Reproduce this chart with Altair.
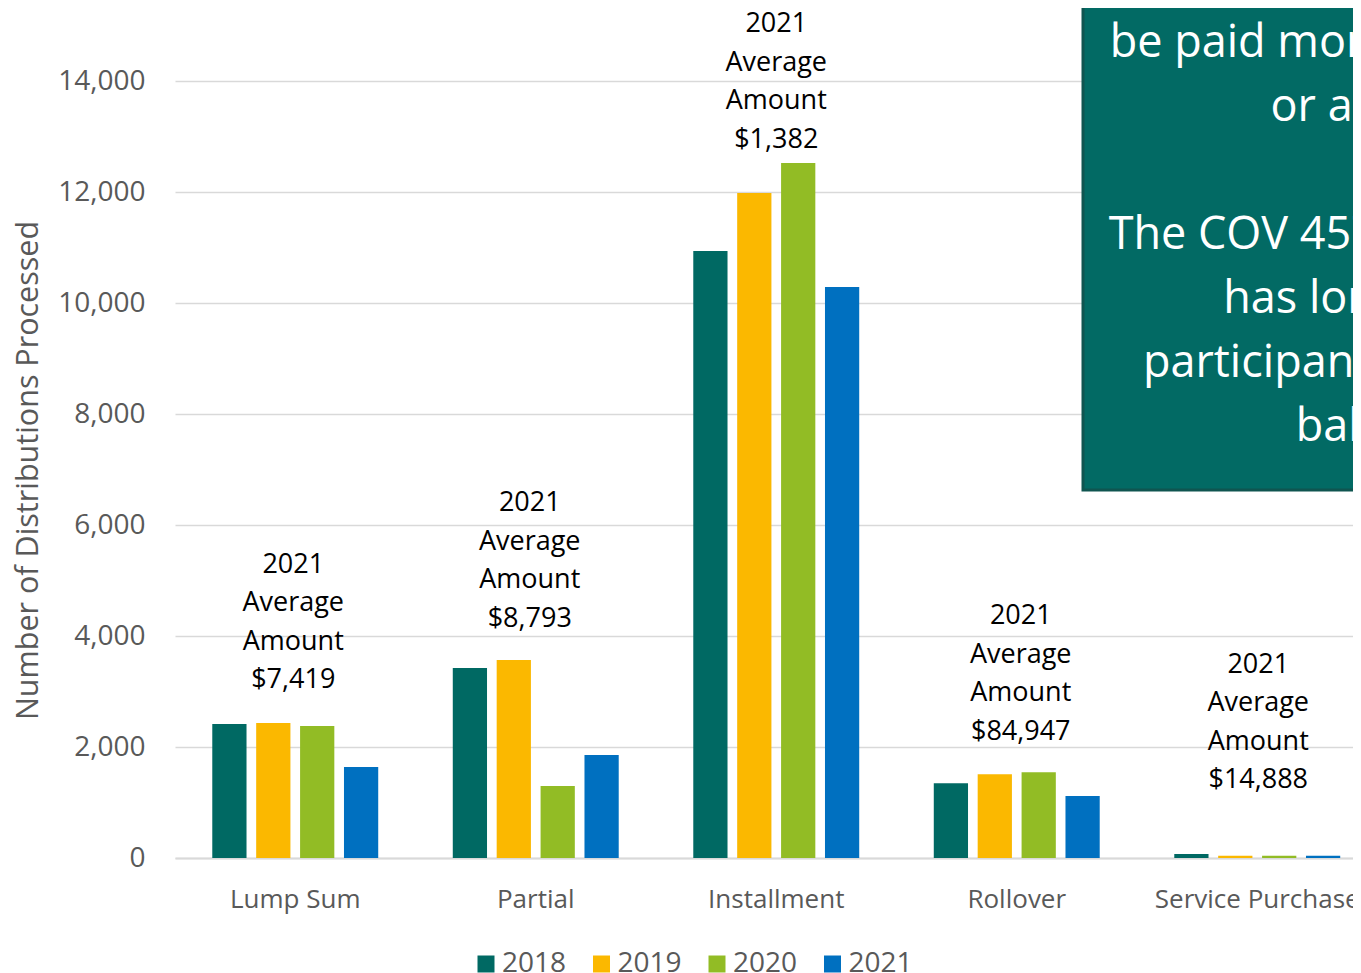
import altair as alt
import pandas as pd

categories = ["Lump Sum", "Partial", "Installment", "Rollover", "Service Purchase"]
years = ["2018", "2019", "2020", "2021"]
v2018 = [2414, 3423, 10937, 1346, 72]
v2019 = [2432, 3568, 11982, 1508, 41]
v2020 = [2378, 1297, 12523, 1544, 41]
v2021 = [1640, 1856, 10288, 1117, 41]
avg_amounts = ["$7,419", "$8,793", "$1,382", "$84,947", "$14,888"]
label_y = [5280, 6396, 15027, 4360, 3478]
label_dx = [-2, -6, 0, 4, 1]
box_lines_top = ["be paid monthly, quarterly,", "or annually."]
box_lines_bottom = ["The COV 457 Deferred Plan", "has long offered",
                    "participants flexibility to", "balances."]
colors = ["#006963", "#FBB800", "#92BC25", "#0070C0"]
y_ticks = [0, 2000, 4000, 6000, 8000, 10000, 12000, 14000]

rows = []
for yr, vals in zip(years, [v2018, v2019, v2020, v2021]):
    for c, v in zip(categories, vals):
        rows.append({"category": c, "year": yr, "value": v})
df = pd.DataFrame(rows)

FONT = "Open Sans"
GRAY = "#595959"

x_enc = alt.X(
    "category:N", sort=categories,
    scale=alt.Scale(domain=categories, range=[0, 1202.5], paddingInner=0.31, paddingOuter=0.155),
    axis=alt.Axis(title=None, labelAngle=0, labelFont=FONT, labelFontSize=26, labelColor=GRAY,
                  labelPadding=28, labelLimit=1000, ticks=False, domain=True,
                  domainColor="#d9d9d9", domainWidth=2, grid=False),
)


def y_enc(field):
    return alt.Y(
        field, type="quantitative",
        scale=alt.Scale(domain=[0, 14000], nice=False, zero=True),
        axis=alt.Axis(values=y_ticks, format=",d", title="Number of Distributions Processed",
                      labelFont=FONT, labelFontSize=28, labelColor=GRAY, labelPadding=30,
                      ticks=False, domain=False, grid=True, gridColor="#d9d9d9", gridWidth=1.5,
                      titleFont=FONT, titleFontSize=30.5, titleColor=GRAY,
                      titleFontWeight="normal", titleX=-147, titleY=389, titleAlign="center",
                      titleBaseline="middle", titleAngle=270),
    )


bars = alt.Chart(df).mark_bar().encode(
    x=x_enc,
    xOffset=alt.XOffset("year:N", sort=years,
                        scale=alt.Scale(paddingInner=0.22, paddingOuter=0)),
    y=y_enc("value"),
    color=alt.Color(
        "year:N", sort=years, scale=alt.Scale(domain=years, range=colors),
        legend=alt.Legend(title=None, orient="none", legendX=297, legendY=869,
                          direction="horizontal", columns=4, symbolType="square",
                          symbolSize=289, symbolStrokeWidth=0, labelFont=FONT,
                          labelFontSize=28, labelColor=GRAY, labelOffset=2,
                          columnPadding=20.5, padding=0),
    ),
)

layers = [bars]
for i, cat in enumerate(categories):
    ann = alt.Chart(pd.DataFrame({"category": [cat], "ly": [label_y[i]]})).mark_text(
        font=FONT, fontSize=27, color="#000000", align="center", baseline="middle",
        lineHeight=38.5, dx=label_dx[i],
    ).encode(
        x=x_enc, y=y_enc("ly"),
        text=alt.value(["2021", "Average", "Amount", avg_amounts[i]]),
    )
    layers.append(ann)

box = alt.Chart(pd.DataFrame({"a": [0]})).mark_rect(
    fill="#026a64", stroke="#0f5550", strokeWidth=3
).encode(
    x=alt.value(908), x2=alt.value(1500), y=alt.value(-150), y2=alt.value(409)
)
box_text_top = alt.Chart(pd.DataFrame({"a": [0]})).mark_text(
    font=FONT, fontSize=45, color="#ffffff", align="center", baseline="top", lineHeight=64,
).encode(
    x=alt.value(1219), y=alt.value(-60.5), text=alt.value(box_lines_top)
)
box_text_bottom = alt.Chart(pd.DataFrame({"a": [0]})).mark_text(
    font=FONT, fontSize=45, color="#ffffff", align="center", baseline="top", lineHeight=64,
).encode(
    x=alt.value(1219), y=alt.value(131.5), text=alt.value(box_lines_bottom)
)
layers += [box, box_text_top, box_text_bottom]

chart = alt.layer(*layers).properties(
    width=1178, height=777,
    autosize=alt.AutoSizeParams(type="none"),
    padding={"left": 167, "top": 73, "right": 0, "bottom": 115},
    background="white",
).configure_view(stroke=None)

chart.save("out.html", embed_options={"renderer": "svg", "actions": False})
